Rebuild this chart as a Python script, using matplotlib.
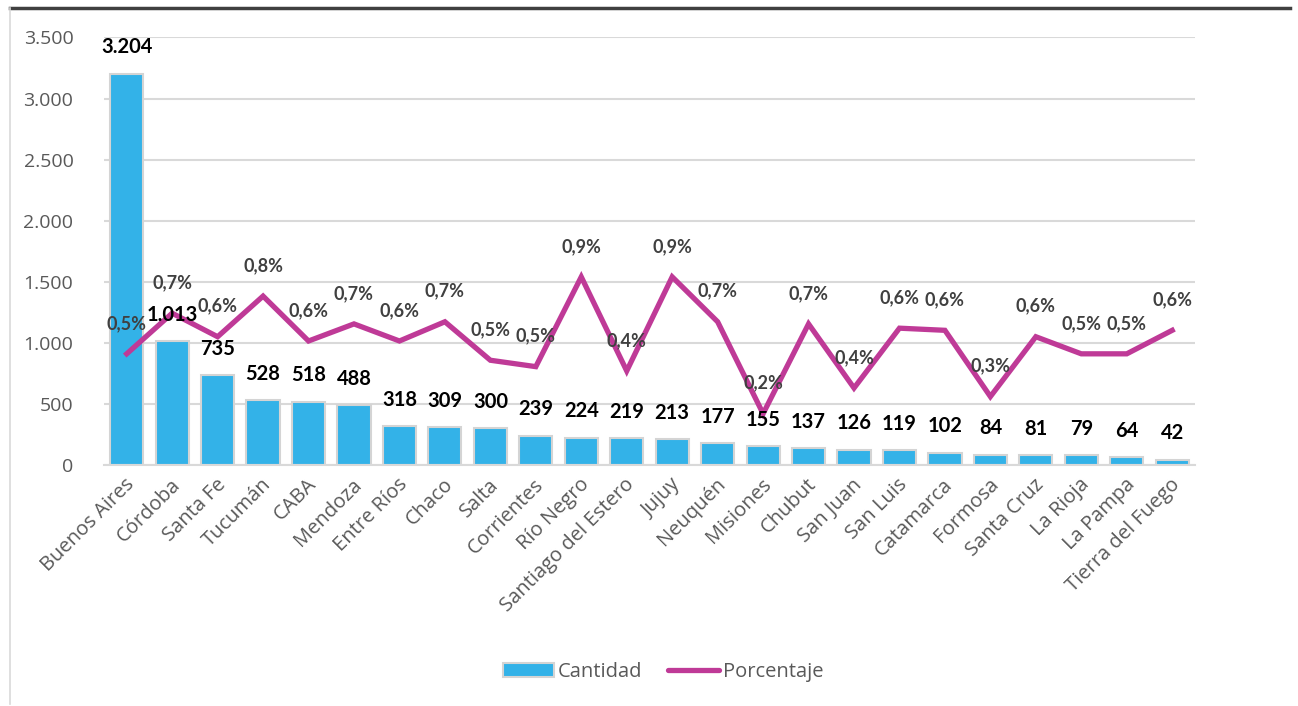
import matplotlib
matplotlib.use("Agg")
import matplotlib.pyplot as plt
import matplotlib.transforms as mtransforms
from matplotlib.lines import Line2D
from matplotlib.patches import Patch

plt.rcParams['font.family'] = ['Open Sans', 'DejaVu Sans']

provincias = ["Buenos Aires", "Córdoba", "Santa Fe", "Tucumán", "CABA", "Mendoza", "Entre Ríos",
              "Chaco", "Salta", "Corrientes", "Río Negro", "Santiago del Estero", "Jujuy", "Neuquén",
              "Misiones", "Chubut", "San Juan", "San Luis", "Catamarca", "Formosa", "Santa Cruz",
              "La Rioja", "La Pampa", "Tierra del Fuego"]
cantidad = [3204, 1013, 735, 528, 518, 488, 318, 309, 300, 239, 224, 219, 213, 177, 155, 137,
            126, 119, 102, 84, 81, 79, 64, 42]
# porcentaje (%), estimated from the line heights
porcentaje = [0.52, 0.71, 0.60, 0.79, 0.58, 0.66, 0.58, 0.67, 0.49, 0.46, 0.88, 0.44, 0.88, 0.67,
              0.24, 0.66, 0.36, 0.64, 0.63, 0.32, 0.60, 0.52, 0.52, 0.63]
yticks = [0, 500, 1000, 1500, 2000, 2500, 3000, 3500]

bar_color = "#33B2E8"
line_color = "#BF3A97"
gray_text = "#595959"
label_font = ['Lato', 'DejaVu Sans']

fig = plt.figure(figsize=(12.98, 7.06), dpi=100)
ax = fig.add_axes([0.0801, 0.3414, 0.8405, 0.6055])
ax2 = ax.twinx()

x = list(range(len(provincias)))
ax.bar(x, cantidad, width=0.73, color=bar_color, edgecolor="#D4D4D4", linewidth=1.5, zorder=2)
ax.set_xlim(-0.5, len(provincias) - 0.5)
ax.set_ylim(0, 3500)
ax.set_yticks(yticks)
ax.set_yticklabels([f"{v:,}".replace(",", ".") for v in yticks], fontsize=14, color=gray_text)
ax.yaxis.grid(True, color="#D9D9D9", linewidth=1.5, zorder=0)
ax.set_axisbelow(True)
ax.tick_params(axis="y", length=0, pad=22)
ax.tick_params(axis="x", length=0, pad=12)
ax.set_xticks(x)
ax.set_xticklabels(provincias, rotation=45, ha="right", va="center", rotation_mode="anchor",
                   fontsize=14.5, color=gray_text)
shift = mtransforms.ScaledTranslation(5 / 100, 0, fig.dpi_scale_trans)
for lbl in ax.get_xticklabels():
    lbl.set_transform(lbl.get_transform() + shift)
for s in ax.spines.values():
    s.set_visible(False)
ax.spines["bottom"].set_visible(True)
ax.spines["bottom"].set_color("#D9D9D9")
ax.spines["bottom"].set_linewidth(1.5)

ax2.plot(x, porcentaje, color=line_color, linewidth=3.8, solid_joinstyle="miter", zorder=3)
ax2.set_ylim(0, 2.0)
ax2.set_yticks([])
for s in ax2.spines.values():
    s.set_visible(False)

for xi, p in zip(x, porcentaje):
    ax2.annotate(f"{p:.1f}%".replace(".", ","), xy=(xi, p), xytext=(0, 22), textcoords="offset points",
                 ha="center", va="center", fontsize=13, fontweight="bold", color="#404040",
                 family=label_font, zorder=5)

for xi, c in zip(x, cantidad):
    ax2.annotate(f"{c:,}".replace(",", "."), xy=(xi, c), xycoords=ax.transData, xytext=(0, 19),
                 textcoords="offset points", ha="center", va="center", fontsize=14.5,
                 fontweight="bold", color="black", family=label_font, zorder=6)

handles = [Patch(facecolor=bar_color, edgecolor="#D4D4D4", linewidth=1.5),
           Line2D([0], [0], color=line_color, linewidth=3.8, solid_capstyle="round")]
fig.legend(handles, ["Cantidad", "Porcentaje"], loc="center", bbox_to_anchor=(0.511, 0.048),
           ncol=2, frameon=False, fontsize=14.5, labelcolor=gray_text, handlelength=2.5,
           handletextpad=0.2, columnspacing=1.3)

# chart frame: dark top rule and light left border
fig.add_artist(Line2D([10 / 1298, 1290 / 1298], [1 - 8 / 706, 1 - 8 / 706], color="#404040",
                      linewidth=2.5, transform=fig.transFigure))
fig.add_artist(Line2D([10 / 1298, 10 / 1298], [1 - 8 / 706, 1 - 704 / 706], color="#D9D9D9",
                      linewidth=1.2, transform=fig.transFigure))

fig.savefig("out.png", dpi=100)
